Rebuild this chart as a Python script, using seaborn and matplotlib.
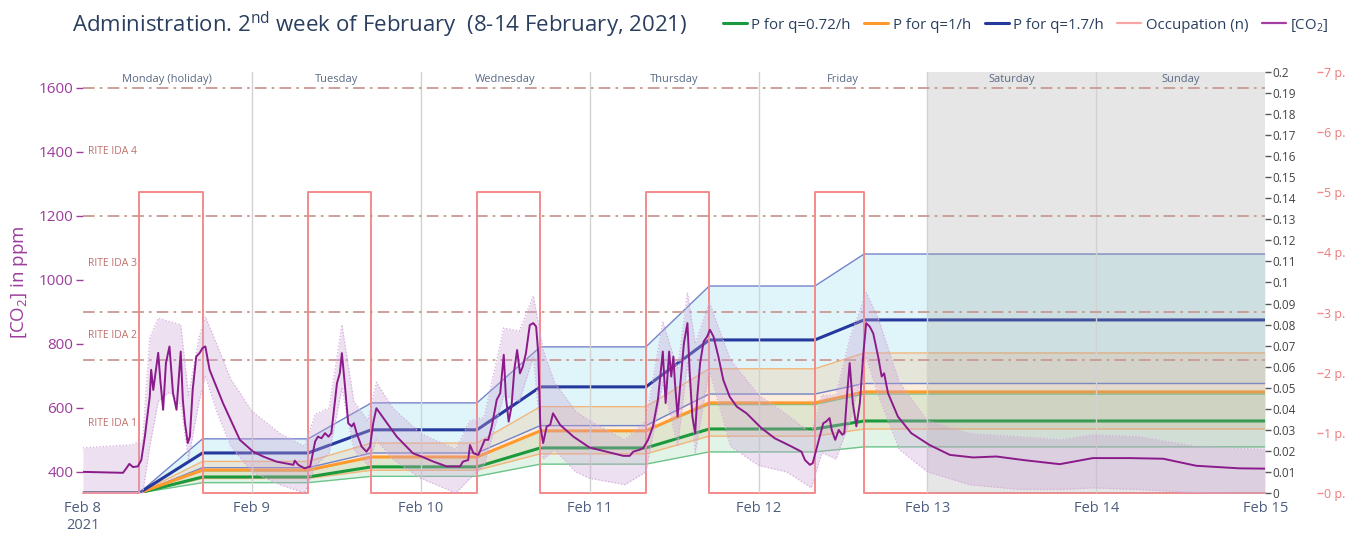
import numpy as np
import pandas as pd
import matplotlib
matplotlib.use("Agg")
import matplotlib.pyplot as plt
from matplotlib.lines import Line2D
from matplotlib.ticker import FuncFormatter
import seaborn as sns

START = pd.Timestamp("2021-02-08")

# day / axis text
day_names = ["Monday (holiday)", "Tuesday", "Wednesday", "Thursday",
             "Friday", "Saturday", "Sunday"]
xtick_labels = ["Feb 8\n2021", "Feb 9", "Feb 10", "Feb 11", "Feb 12",
                "Feb 13", "Feb 14", "Feb 15"]
rite_lines_ppm = [750, 900, 1200, 1600]
rite_labels = ["RITE IDA 1", "RITE IDA 2", "RITE IDA 3", "RITE IDA 4"]
rite_label_ppm = [550, 825, 1050, 1400]

# occupation (persons), step changes, hours from Feb 8 00:00
occ_hours = [0, 8, 17, 32, 41, 56, 65, 80, 89, 104, 111, 168]
occ_persons = [0, 5, 0, 5, 0, 5, 0, 5, 0, 5, 0, 0]

# infection probability knots: start/end of each occupied period
knot_hours = [0, 8, 17, 32, 41, 56, 65, 80, 89, 104, 111, 168]
# value reached at the end of each working day (Mon..Fri)
p072_mid = [0.0076, 0.0124, 0.0214, 0.0304, 0.0342]
p072_low = [0.0049, 0.0079, 0.0137, 0.0195, 0.0219]
p072_high = [0.0105, 0.0171, 0.0295, 0.0420, 0.0470]
p1_mid = [0.0109, 0.0171, 0.0295, 0.0428, 0.0480]
p1_low = [0.0069, 0.0108, 0.0186, 0.0270, 0.0304]
p1_high = [0.0150, 0.0237, 0.0410, 0.0590, 0.0665]
p17_mid = [0.0190, 0.0300, 0.0504, 0.0727, 0.0822]
p17_low = [0.0120, 0.0190, 0.0320, 0.0470, 0.0520]
p17_high = [0.0257, 0.0428, 0.0694, 0.0983, 0.1135]

# CO2 (ppm)
co2_hours = [0, 5.7, 6.2, 6.6, 7.1, 7.8, 8.3, 8.8, 9.5, 9.7, 10.0, 10.7, 11.0, 11.4, 11.8, 12.3,
             12.8, 13.3, 13.9, 14.2, 14.5, 14.9, 15.2, 15.6, 16.1, 16.6, 17.0, 17.4, 18.0, 19.9, 22.3,
             24.2, 25.6, 27.5, 29.9, 30.1, 30.6, 31.5, 32.3, 33.0, 33.4, 33.9, 34.4, 34.9, 35.3, 36.1,
             36.5, 36.8, 37.2, 37.7, 38.2, 38.5, 38.9, 39.6, 40.3, 40.8, 41.25, 41.7, 42.7, 44.6, 46.9,
             48.1, 49.8, 51.7, 53.6, 54.0, 54.75, 55.0, 55.5, 56.2, 56.7, 57.1, 57.6, 58.1, 58.8, 59.3,
             59.8, 60.1, 60.5, 60.9, 61.3, 61.7, 62.1, 62.5, 62.95, 63.5, 64.0, 64.4, 64.7, 65.0, 65.4,
             65.9, 66.4, 66.8, 67.8, 69.7,
             72.0, 74.4, 76.8, 77.7, 78.2, 79.1, 79.6, 80.3, 81.0, 81.7, 82.4, 82.8, 83.3, 83.6, 83.9,
             84.1, 84.5, 84.9, 85.4, 85.9, 86.2, 86.6, 87.0, 87.3, 87.7, 88.2, 88.7, 89.1, 89.6, 90.3,
             91.0, 91.9, 92.9, 94.3,
             96.4, 98.3, 100.7, 102.1, 102.6, 103.3, 103.7, 104.2, 104.7, 105.2, 105.6, 106.1, 106.4,
             106.9, 107.4, 107.9, 108.2, 108.6, 108.95, 109.4, 109.9, 110.4, 110.9, 111.3, 111.8, 112.3,
             113.0, 113.5, 113.85, 114.4, 115.8, 117.7,
             120.3, 123.2, 126.5, 129.8, 133.6, 138.8, 143.5, 148.7, 153.5, 158.2, 164.3, 168]
co2_ppm = [400, 397, 412, 425, 415, 417, 437, 510, 635, 719, 656, 772, 687, 594, 740, 792,
           647, 594, 776, 625, 553, 490, 510, 656, 760, 772, 787, 792, 719, 615, 500,
           463, 448, 432, 422, 435, 422, 411, 417, 495, 510, 505, 521, 510, 521, 677,
           708, 771, 677, 552, 542, 552, 521, 479, 463, 479, 552, 599, 568, 510, 458,
           448, 432, 417, 417, 432, 437, 484, 458, 453, 479, 500, 500, 542, 625, 646,
           766, 635, 557, 604, 719, 781, 708, 729, 771, 859, 865, 854, 771, 542, 490,
           542, 547, 583, 547, 510,
           476, 463, 450, 450, 463, 469, 474, 500, 542, 625, 776, 615, 776, 698, 760,
           687, 573, 677, 802, 865, 719, 573, 521, 635, 740, 807, 823, 844, 823, 760,
           687, 635, 604, 583,
           537, 505, 479, 463, 437, 422, 427, 469, 510, 552, 557, 568, 531,
           500, 531, 516, 521, 646, 740, 615, 542, 615, 771, 865, 854, 833,
           760, 698, 708, 646, 573, 521,
           484, 453, 445, 448, 437, 424, 443, 443, 441, 419, 411, 410]

# CO2 spread band
band_hours = [0, 7, 8.5, 9.5, 10.7, 12.3, 13.9, 15, 16.5, 17.4,
              19, 21, 24, 28, 31.5, 33, 35, 36.8, 38.5, 40.5,
              41.7, 44, 48, 53, 55, 57, 59.8, 62, 64, 65.4,
              67, 70, 72, 77, 80, 82.4, 84.5, 85.9, 87, 89,
              92, 96, 100, 103.5, 105, 107, 109, 111.3, 113, 116,
              120, 126, 133, 139, 143.5, 150, 158, 168]
band_upper = [475, 485, 500, 820, 880, 870, 860, 640, 820, 885,
              800, 690, 590, 520, 480, 580, 600, 860, 620, 560,
              680, 600, 520, 470, 560, 570, 850, 840, 950, 780,
              680, 590, 560, 500, 560, 870, 720, 960, 800, 930,
              750, 640, 580, 520, 640, 640, 820, 960, 880, 680,
              560, 520, 510, 500, 516, 510, 480, 470]
band_lower = [334, 334, 334, 480, 620, 650, 610, 440, 620, 700,
              590, 480, 400, 360, 334, 420, 460, 660, 470, 420,
              500, 440, 380, 334, 380, 420, 640, 620, 760, 440,
              470, 400, 380, 360, 400, 680, 480, 740, 460, 720,
              480, 420, 400, 350, 460, 440, 560, 760, 640, 470,
              400, 360, 345, 345, 350, 345, 335, 330]


def to_time(hours):
    return START + pd.to_timedelta(np.asarray(hours, dtype=float), unit="h")


def knot_series(day_end):
    # flat outside office hours, rising while the room is occupied
    vals = [0.0, 0.0]
    for v in day_end:
        vals += [v, v]
    return vals


PURPLE = "#9c3d9c"
TXT = "#2a3f5f"

sns.set_theme(style="white")
plt.rcParams["font.family"] = ["Open Sans", "DejaVu Sans"]
plt.rcParams["mathtext.fontset"] = "custom"
plt.rcParams["mathtext.rm"] = "Open Sans"

fig, ax = plt.subplots(figsize=(13.59, 5.37), dpi=100)
fig.subplots_adjust(left=0.061, right=0.931, top=0.866, bottom=0.082)
ax2 = ax.twinx()
ax3 = ax.twinx()
ax3.spines["right"].set_position(("outward", 37))
ax2.set_zorder(1)
ax3.set_zorder(2)
ax.set_zorder(3)
ax.patch.set_visible(False)
ax3.patch.set_visible(False)

kt = to_time(knot_hours)
series = [
    ("#8fdcf0", 0.28, "#7183c9", "#25389d", p17_mid, p17_low, p17_high),
    ("#f7b878", 0.25, "#f3b67a", "#ff9a2e", p1_mid, p1_low, p1_high),
    ("#7fcf98", 0.22, "#6cc48a", "#1a9a3c", p072_mid, p072_low, p072_high),
]
for fillc, alpha, edge, main, mid, lo, hi in series:
    ax2.fill_between(kt, knot_series(lo), knot_series(hi), color=fillc, alpha=alpha, lw=0)
for fillc, alpha, edge, main, mid, lo, hi in series:
    sns.lineplot(x=kt, y=knot_series(lo), ax=ax2, color=edge, lw=1, estimator=None, sort=False)
    sns.lineplot(x=kt, y=knot_series(hi), ax=ax2, color=edge, lw=1, estimator=None, sort=False)
for fillc, alpha, edge, main, mid, lo, hi in series[::-1]:
    sns.lineplot(x=kt, y=knot_series(mid), ax=ax2, color=main, lw=2.2, estimator=None, sort=False)

sns.lineplot(x=to_time(occ_hours), y=occ_persons, ax=ax3, color="#f48a8a", lw=1.4,
             drawstyle="steps-post", estimator=None, sort=False, clip_on=False)

# weekend shading, day separators and thresholds
ax.axvspan(to_time([120])[0], to_time([168])[0], color="#9e9e9e", alpha=0.25, lw=0, zorder=0)
for t in to_time([24, 48, 72, 96, 120, 144]):
    ax.axvline(t, color="#d2d2d2", lw=1, zorder=0.5)
for y in rite_lines_ppm:
    ax.axhline(y, color="#c99a94", lw=1.3, ls=(0, (6.5, 2.8, 1.5, 2.8)), zorder=1)

bt = to_time(band_hours)
ax.fill_between(bt, band_lower, band_upper, color="#c9a3d3", alpha=0.33, lw=0, zorder=2)
sns.lineplot(x=bt, y=band_upper, ax=ax, color="#d6addd", lw=0.9, ls=":", estimator=None, sort=False)
sns.lineplot(x=bt, y=band_lower, ax=ax, color="#d6addd", lw=0.9, ls=":", estimator=None, sort=False)
sns.lineplot(x=to_time(co2_hours), y=co2_ppm, ax=ax, color="#8b1a8b", lw=1.4,
             estimator=None, sort=False)

# axes
x0, x1 = to_time([0, 168])
ax.set_xlim(x0, x1)
ax.set_ylim(334, 1650)
ax2.set_ylim(0, 0.2)
ax3.set_ylim(0, 7)

ax.set_xticks(to_time([0, 24, 48, 72, 96, 120, 144, 168]))
ax.set_xticklabels(xtick_labels)
ax.tick_params(axis="x", length=0, pad=6, labelsize=10.5, labelcolor="#4d5d7d")
ax.grid(False)
ax2.grid(False)
ax3.grid(False)

ax.set_yticks([400, 600, 800, 1000, 1200, 1400, 1600])
ax.tick_params(axis="y", left=True, direction="out", length=5, width=1, color=PURPLE,
               labelcolor=PURPLE, labelsize=11, pad=2)
ax.set_ylabel("[CO$_2$] in ppm", color=PURPLE, fontsize=13.5, labelpad=6)
ax.set_xlabel("")

ax2.set_yticks([i / 100 for i in range(21)])
ax2.yaxis.set_major_formatter(FuncFormatter(lambda v, p: f"{v:.2f}".rstrip("0").rstrip(".")))
ax2.tick_params(axis="y", right=True, direction="out", length=4, width=1, color="#555555",
                labelcolor="#444444", labelsize=8.5, pad=1)
ax2.set_ylabel("")

ax3.set_yticks(range(8))
ax3.yaxis.set_major_formatter(FuncFormatter(lambda v, p: f"{int(v)} p."))
ax3.tick_params(axis="y", right=True, direction="out", length=4, width=1, color="#f48a8a",
                labelcolor="#f07878", labelsize=9, pad=1)
ax3.set_ylabel("")

for a in (ax, ax2, ax3):
    for s in a.spines.values():
        s.set_visible(False)

# day names and RITE labels
for i, name in enumerate(day_names):
    ax.text(to_time([24 * i + 12])[0], 0.981, name, transform=ax.get_xaxis_transform(),
            ha="center", va="center", fontsize=8, color="#5a6a85")
for y, lab in zip(rite_label_ppm, rite_labels):
    ax.text(0.004, y, lab, transform=ax.get_yaxis_transform(), ha="left", va="center",
            fontsize=7.5, color="#c0706a")

fig.text(0.053, 0.953, "Administration. 2$^{\\mathrm{nd}}$ week of February  (8-14 February, 2021)",
         fontsize=16, color=TXT, va="center", ha="left")

handles = [
    Line2D([], [], color="#1a9a3c", lw=2.2),
    Line2D([], [], color="#ff9a2e", lw=2.2),
    Line2D([], [], color="#25389d", lw=2.2),
    Line2D([], [], color="#f7a6a6", lw=1.6),
    Line2D([], [], color="#a33ca3", lw=1.6),
]
labels = ["P for q=0.72/h", "P for q=1/h", "P for q=1.7/h", "Occupation (n)", "[CO$_2$]"]
fig.legend(handles, labels, loc="center left", bbox_to_anchor=(0.522, 0.953), ncol=5,
           frameon=False, fontsize=10.8, handlelength=1.6, handletextpad=0.3,
           columnspacing=0.9, labelcolor=TXT)

fig.savefig("out.png", dpi=100)
